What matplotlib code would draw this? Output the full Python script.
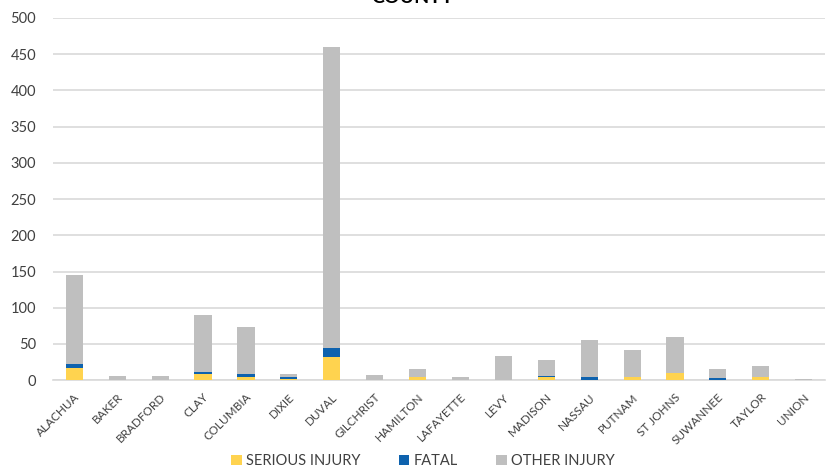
import numpy as np
import matplotlib
matplotlib.use("Agg")
import matplotlib.pyplot as plt

plt.rcParams['font.family'] = ['Lato', 'DejaVu Sans']

counties = ["ALACHUA", "BAKER", "BRADFORD", "CLAY", "COLUMBIA", "DIXIE", "DUVAL",
            "GILCHRIST", "HAMILTON", "LAFAYETTE", "LEVY", "MADISON", "NASSAU",
            "PUTNAM", "ST JOHNS", "SUWANNEE", "TAYLOR", "UNION"]
serious = [17, 0, 0, 9, 4, 2, 32, 1, 4, 1, 1, 4, 1, 4, 10, 1, 4, 0]
fatal = [5, 0, 0, 2, 4, 2, 12, 0, 1, 0, 0, 2, 3, 1, 0, 2, 1, 0]
other = [123, 6, 6, 79, 66, 4, 416, 6, 10, 4, 33, 22, 51, 37, 49, 12, 14, 2]

c_serious = "#FFD34F"
c_fatal = "#0E62AE"
c_other = "#BFBFBF"

fig = plt.figure(figsize=(8.26, 4.70), dpi=100)
ax = fig.add_axes([0.064, 0.191, 0.935, 0.771])

x = np.arange(len(counties))
s = np.array(serious)
f = np.array(fatal)
o = np.array(other)
w = 0.4
ax.bar(x, s, w, color=c_serious, label="SERIOUS INJURY", zorder=3)
ax.bar(x, f, w, bottom=s, color=c_fatal, label="FATAL", zorder=3)
ax.bar(x, o, w, bottom=s + f, color=c_other, label="OTHER INJURY", zorder=3)

ax.set_xlim(-0.5, len(counties) - 0.5)
ax.set_ylim(0, 500)
ax.set_yticks(np.arange(0, 501, 50))
ax.grid(axis="y", color="#D9D9D9", linewidth=1.2, zorder=0)
for sp in ["top", "right", "left"]:
    ax.spines[sp].set_visible(False)
ax.spines["bottom"].set_color("#D9D9D9")
ax.spines["bottom"].set_linewidth(1.2)
ax.tick_params(axis="both", length=0, colors="#404040")
ax.tick_params(axis="y", labelsize=10.5, pad=12)
ax.set_xticks(x)
ax.set_xticklabels(counties, rotation=45, ha="right", rotation_mode="anchor",
                   fontsize=8.5, color="#404040")
ax.tick_params(axis="x", pad=8)

# title sits mostly above the top edge, as in the source image
fig.text(0.5, 1.005, "COUNTY", ha="center", va="center", fontsize=14,
         fontweight="bold", color="black")

ax.legend(loc="center", bbox_to_anchor=(0.512, 0.019), bbox_transform=fig.transFigure,
          ncol=3, frameon=False, fontsize=10.5, handlelength=0.75, handleheight=0.75,
          handletextpad=0.3, columnspacing=2.6, labelcolor="#404040")

fig.savefig("out.png", dpi=100)
